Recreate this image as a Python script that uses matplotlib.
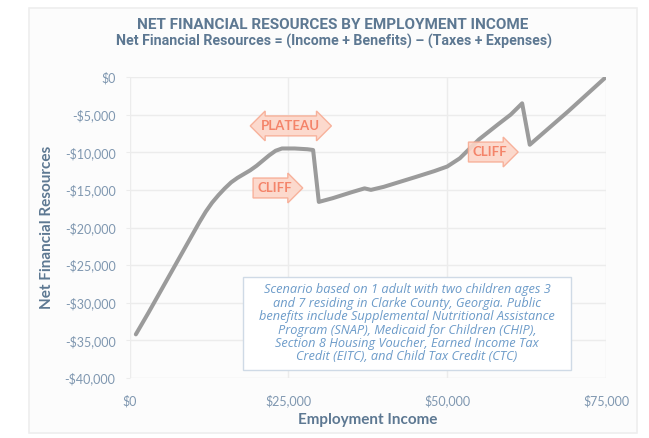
import matplotlib
matplotlib.use("Agg")
import matplotlib.pyplot as plt
import matplotlib.patches as mpatches
from matplotlib.ticker import FuncFormatter

# Data (employment income vs net financial resources, $)
income = [1000, 3000, 5000, 7000, 9000, 11000, 12000, 13000, 14000, 15000,
          16000, 17000, 18000, 19000, 20000, 21000, 22000, 23000, 24000, 26000,
          28000, 28900, 29800, 32000, 35000, 37000, 38000, 40000, 45000, 48000,
          50000, 52000, 55000, 58000, 60000, 61800, 63000, 66000, 69000, 72000,
          75000]
net_resources = [-34200, -31300, -28300, -25300, -22300, -19300, -17900, -16700, -15700, -14800,
                 -14000, -13400, -12900, -12400, -11800, -11100, -10400, -9800, -9500, -9500,
                 -9600, -9700, -16600, -16100, -15300, -14800, -15000, -14600, -13300, -12500,
                 -11900, -10800, -8300, -6300, -5000, -3500, -9000, -6800, -4600, -2300,
                 0]

x_ticks = [0, 25000, 50000, 75000]
y_ticks = list(range(-40000, 1, 5000))

title = "NET FINANCIAL RESOURCES BY EMPLOYMENT INCOME"
subtitle = "Net Financial Resources = (Income + Benefits) \u2013 (Taxes + Expenses)"
note = ("Scenario based on 1 adult with two children ages 3\n"
        "and 7 residing in Clarke County, Georgia. Public\n"
        "benefits include Supplemental Nutritional Assistance\n"
        "Program (SNAP), Medicaid for Children (CHIP),\n"
        "Section 8 Housing Voucher, Earned Income Tax\n"
        "Credit (EITC), and Child Tax Credit (CTC)")

# annotation labels: (text, x, y, box style)
callouts = [
    ("PLATEAU", 25400, -6500, "darrow"),
    ("CLIFF", 22800, -14750, "rarrow"),
    ("CLIFF", 56700, -9970, "rarrow"),
]

title_color = "#5d7892"
tick_color = "#7f97b0"
line_color = "#9b9b9b"
grid_color = "#ececec"

fig = plt.figure(figsize=(6.49, 4.38), dpi=100)
fig.patch.set_facecolor("white")

# card background
card = mpatches.Rectangle((29 / 649, 1 - 433 / 438), (637 - 29) / 649, (433 - 8) / 438,
                          transform=fig.transFigure, facecolor="#fcfcfc",
                          edgecolor="#eeeeee", linewidth=1.2, zorder=-5)
fig.patches.append(card)

ax = fig.add_axes([129.5 / 649, 1 - 378 / 438, (606 - 129.5) / 649, (378 - 77) / 438])
ax.set_facecolor("none")

ax.plot(income, net_resources, color=line_color, linewidth=2.9,
        solid_joinstyle="round", solid_capstyle="round", zorder=3)

ax.set_xlim(0, 75000)
ax.set_ylim(-40000, 0)
ax.set_xticks(x_ticks)
ax.set_yticks(y_ticks)
money = FuncFormatter(lambda v, p: ("-$" if v < 0 else "$") + f"{abs(v):,.0f}")
ax.xaxis.set_major_formatter(money)
ax.yaxis.set_major_formatter(money)

ax.grid(True, color=grid_color, linewidth=1.0, zorder=0)
ax.set_axisbelow(True)
for s in ax.spines.values():
    s.set_visible(False)
ax.tick_params(axis="y", length=3, color=grid_color, pad=7, labelsize=9,
               labelcolor=tick_color)
ax.tick_params(axis="x", length=0, pad=12, labelsize=9, labelcolor=tick_color)
for lab in ax.get_xticklabels() + ax.get_yticklabels():
    lab.set_fontfamily("Lato")

ax.set_xlabel("Employment Income", fontsize=11, fontweight="bold", color=title_color,
              family="Lato", labelpad=4)
ax.set_ylabel("Net Financial Resources", fontsize=11, fontweight="bold", color=title_color,
              family="Lato", labelpad=8)

fig.text(333 / 649, 1 - 25 / 438, title, ha="center", va="center", fontsize=11,
         fontweight="bold", color=title_color, family="Roboto")
fig.text(334 / 649, 1 - 41 / 438, subtitle, ha="center", va="center", fontsize=10.2,
         fontweight="bold", color=title_color, family="Roboto")

for label, cx, cy, style in callouts:
    ax.text(cx, cy, label, ha="center", va="center", fontsize=9.5, fontweight="bold",
            color="#f4846a", family="Lato", zorder=5,
            bbox=dict(boxstyle=style + ",pad=0.3", facecolor="#fcd6c8",
                      edgecolor="#f7ab93", linewidth=1.0, alpha=0.9))

# scenario note box
box = mpatches.Rectangle((243 / 649, 1 - 370 / 438), (571 - 243) / 649, (370 - 277) / 438,
                         transform=fig.transFigure, facecolor="white",
                         edgecolor="#cfdae6", linewidth=1.0, zorder=4)
fig.patches.append(box)
fig.text(407 / 649, 1 - 323.5 / 438, note, ha="center", va="center", fontsize=9.2,
         style="italic", color="#6c9bc9", family="Open Sans", linespacing=1.04, zorder=5)

fig.savefig("out.png", dpi=100)
